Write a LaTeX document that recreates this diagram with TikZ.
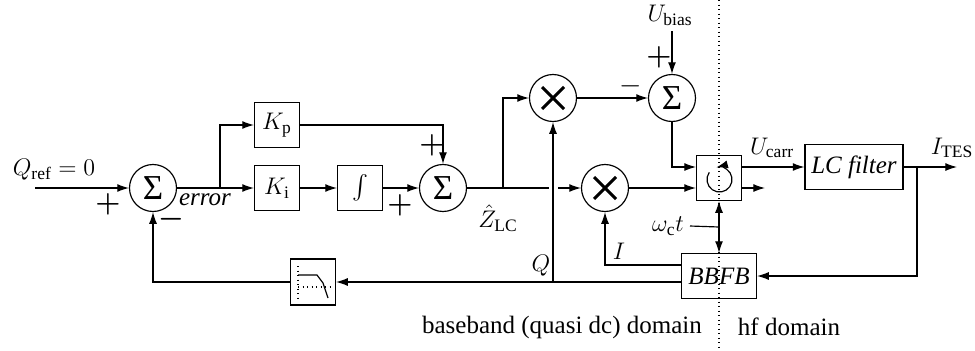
\documentclass[tikz,border=0pt]{standalone}
\usepackage{amsmath}
\usepackage{fontspec}
\setmainfont{Liberation Serif}
\usetikzlibrary{arrows.meta}

\begin{document}
\begin{tikzpicture}[x=0.6pt,y=-0.6pt,
    >={Latex[length=7pt,width=4.8pt]},
    line width=0.7pt,
    font=\fontsize{15}{18}\selectfont,
    block/.style={draw,minimum width=27pt,minimum height=27pt,inner sep=0pt},
    sumnode/.style={draw,circle,minimum size=28.2pt,inner sep=0pt,font=\fontsize{21}{22}\selectfont},
    mult/.style={draw,circle,minimum size=28.2pt,inner sep=0pt},
    sign/.style={inner sep=0pt,font=\boldmath\fontsize{17}{18}\selectfont}]
\useasboundingbox (0,0) rectangle (975,350);

% blocks
\node[sumnode] (s1) at (153,188) {Σ};
\node[block] (kp) at (277,125) {$K_\mathrm{p}$};
\node[block] (ki) at (277,188) {$K_\mathrm{i}$};
\node[block,font=\fontsize{14}{16}\selectfont] (int) at (360,188) {$\int$};
\node[sumnode] (s2) at (443,188) {Σ};
\node[mult] (m1) at (553,98) {};
\node[mult] (m2) at (605,188) {};
\node[sumnode] (s3) at (672,98) {Σ};
\node[block] (rot) at (719,178) {};
\node[block,minimum width=58.8pt] (lc) at (854,167) {\textit{LC filter}};
\node[block,minimum width=45pt] (bbfb) at (719,276) {\textit{BBFB}};
\node[block,minimum height=27.6pt] (lpf) at (313,282) {};

% labels
\node (qref) at (54,170) {$Q_\mathrm{ref}=0$};
\node[sign] at (108,204) {$+$};
\node[sign] at (171,219) {$-$};
\node (err) at (205,200) {\textit{error}};
\node[sign] at (400,205) {$+$};
\node[sign] at (432,145) {$+$};
\node[inner sep=1pt] (zlc) at (498,218) {$\hat{Z}_\mathrm{LC}$};
\node (qlab) at (541,266) {$Q$};
\node[sign,font=\fontsize{17}{18}\selectfont] at (631,86) {$-$};
\node (ubias) at (670,15) {$U_\mathrm{bias}$};
\node[sign] at (659,57) {$+$};
\node (ucarr) at (772,148) {$U_\mathrm{carr}$};
\node (ites) at (952,148) {$I_\mathrm{TES}$};
\node (ilab) at (619,251) {$I$};
\node (wct) at (668,226) {$\omega_\mathrm{c}t$};
\node (bbd) at (562,327) {baseband (quasi dc) domain};
\node (hfd) at (789,327) {hf domain};

% multipliers and symbols
\foreach \m in {m1,m2}
    \draw[line width=1.8pt] (\m.center) ++(-11,-11) -- ++(22,22) (\m.center) ++(-11,11) -- ++(22,-22);
\draw[->] (719.5,179.5) ++(-145:12.5) arc[start angle=-145, end angle=-465, radius=12.5];
\draw[dotted] (lpf.center) ++(-15,-16) -- ++(0,33);
\draw[dotted] (lpf.center) ++(-15,5) -- ++(33,0);
\draw (lpf.center) ++(-15,-7) -- ++(19,0) -- ++(6,8) -- ++(5,15);

% connections
\coordinate (qin) at (35,188);
\coordinate (br1) at (220,188);
\coordinate (br2) at (503,188);
\coordinate (gapl) at (549,188);
\coordinate (gapr) at (558,188);
\coordinate (qb) at (553,282);
\coordinate (rin) at (696,167);
\coordinate (rout) at (765,188);
\coordinate (iend) at (957,167);
\coordinate (br3) at (917,167);
\coordinate (iout) at (681,265);
\coordinate (wj) at (719,227);
\draw[->] (qin) -- (s1);
\draw[->] (s1) -- (ki);
\draw[->] (br1) |- (kp);
\draw[->] (ki) -- (int);
\draw[->] (int) -- (s2);
\draw[->] (kp) -| (s2);
\draw (s2) -- (gapl);
\draw[->] (gapr) -- (m2);
\draw[->] (br2) |- (m1);
\draw[->] (qb) -- (m1);
\draw[->] (m1) -- (s3);
\draw[->] (s3 |- ubias.south) -- (s3);
\draw[->] (s3) |- (rin);
\draw[->] (m2) -- (m2 -| rot.west);
\draw[->] (rot.east |- lc) -- (lc);
\draw[->] (rot.east |- m2) -- (rout);
\draw[->] (lc) -- (iend);
\draw[->] (br3) |- (bbfb);
\draw[->] (bbfb.west |- lpf) -- (lpf);
\draw[->] (iout) -| (m2);
\draw[->] (lpf) -| (s1);
\draw[<->] (rot) -- (bbfb);
\draw (wct.east) -- (wj);
\draw[dotted] (719,0) -- (719,350);
\end{tikzpicture}
\end{document}
